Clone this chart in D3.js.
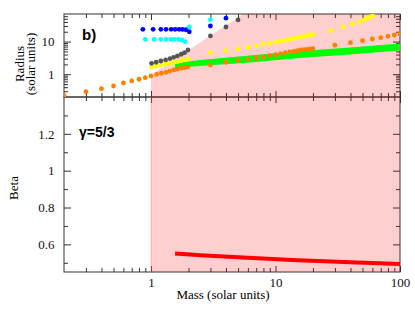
<!DOCTYPE html>
<html lang="en">
<head>
<meta charset="UTF-8">
<title>Radius and Beta vs Mass</title>
<script src="https://d3js.org/d3.v7.min.js"></script>
<style>
  body { margin: 0; background: #fff; }
  .serif { font-family: "Liberation Serif", "Times New Roman", serif; }
  .label { font-family: "Liberation Sans", Arial, sans-serif; font-weight: bold; }
</style>
</head>
<body>
<svg id="chart" width="415" height="312"></svg>
<script>
// ---- data ----
const orangeM = [0.2,0.3,0.4,0.5,0.6,0.7,0.8,0.9,1.0,1.11,1.21,1.32,1.42,1.53,1.63,1.74,1.86,1.97,
  3,4,5,6,7,8,9,10,11,12,13,14,15,16,17,18,19,20,30,40,50,60,70,80,90,100];
const orangeR = [0.22,0.29,0.36,0.435,0.54,0.62,0.70,0.78,0.88,0.99,1.07,1.14,1.25,1.35,1.44,1.52,1.58,1.64,
  1.91,2.32,2.59,2.93,3.08,3.37,3.69,3.96,4.25,4.57,4.8,5.04,5.26,5.52,5.65,5.8,5.93,6.06,
  7.7,9.25,10.7,12.0,13.2,14.5,15.9,17.1];

const blueM = [0.86,1.04,1.2,1.32,1.45,1.56,1.68,1.79,1.91,2.03,3,4];
const blueR = [23.8,23.8,23.8,23.8,23.8,23.8,23.8,23.6,23,20,30,52];

const cyanM = [0.9,1.06,1.2,1.32,1.44,1.54,1.66,1.77,1.88,2.03,3];
const cyanR = [11.7,11.7,11.7,11.7,11.7,11.7,11.6,11.2,9.9,28,47];

const grayM = [1.01,1.1,1.2,1.31,1.42,1.52,1.63,1.75,1.86,1.98,3,4,5];
const grayR = [2.16,2.32,2.54,2.73,2.99,3.3,3.62,4.08,4.57,5.52,14.9,28,46];

const yellowM = [1.01,1.1,1.2,1.31,1.42,1.52,1.63,1.75,1.86,1.98,
  3,4,5,6,7,8,9,10,11,12,13,14,15,16,17,18,19,20,
  27.8,34.9,41.3,46.9,51.3,54.6,57.6,60.3];
const yellowR = [1.63,1.78,1.92,2.05,2.16,2.32,2.42,2.59,2.73,2.93,
  4.57,5.26,5.93,6.69,7.33,8.27,8.87,9.52,10.2,10.96,11.77,12.3,13.2,13.8,14.5,15.2,15.9,16.5,
  21.6,28,34.7,39.9,46,51.9,56.9,61];

const greenM  = [1.56,2.47,6.24,15.7,39.8,100];
const greenLo = [1.55,1.78,2.28,3.14,4.02,5.33];
const greenHi = [2.13,2.73,3.75,5.15,6.59,8.74];

const betaM = [1.56,2.5,6,15,40,100];
const betaV = [0.551,0.541,0.527,0.514,0.503,0.493];

const pinkM = [1, 5.5];
const pinkR = [0.95, 70];

const xMajor = [1,10,100];
const xMinor = [0.3,0.4,0.5,0.6,0.7,0.8,0.9,2,3,4,5,6,7,8,9,20,30,40,50,60,70,80,90];
const rMajor = [1,10];
const rMinor = [0.3,0.4,0.5,0.6,0.7,0.8,0.9,2,3,4,5,6,7,8,9,20,30,40,50,60];
const bMajor = [0.6,0.8,1,1.2];
const bMinor = [0.5,0.7,0.9,1.1,1.3];

// ---- layout ----
const L = 64, R = 400, T1 = 14, B1 = 97, T2 = 97, B2 = 272;
const svg = d3.select('#chart');

const x = d3.scaleLog().domain([0.2, 100]).range([L, R]);
const yR = d3.scaleLog().domain([0.2, 70]).range([B1, T1]);
const yB = d3.scaleLinear().domain([0.45, 1.4]).range([B2, T2]);

const pairs = (a, b) => a.map((v, i) => [v, b[i]]);
const axisCol = '#333';

// clip for top panel
svg.append('clipPath').attr('id', 'clipTop')
  .append('rect').attr('x', L).attr('y', T1).attr('width', R - L).attr('height', B1 - T1);

// ---- axes ----
function ticks(axisFn, scale, vals, size, pos, isX) {
  const g = svg.append('g')
    .attr('transform', isX ? `translate(0,${pos})` : `translate(${pos},0)`)
    .call(axisFn(scale).tickValues(vals).tickSize(size).tickSizeOuter(0).tickFormat(''));
  g.select('.domain').remove();
  g.selectAll('line').attr('stroke', axisCol);
  return g;
}

// top panel
ticks(d3.axisTop, x, xMajor, -6, T1, true);
ticks(d3.axisTop, x, xMinor, -4, T1, true);
ticks(d3.axisBottom, x, xMajor, -6, B1, true);
ticks(d3.axisBottom, x, xMinor, -4, B1, true);
ticks(d3.axisLeft, yR, rMajor, -7, L, false);
ticks(d3.axisLeft, yR, rMinor, -4, L, false);
ticks(d3.axisRight, yR, rMajor, -7, R, false);
ticks(d3.axisRight, yR, rMinor, -4, R, false);
// bottom panel
ticks(d3.axisTop, x, xMajor, -6, T2, true);
ticks(d3.axisTop, x, xMinor, -4, T2, true);
ticks(d3.axisBottom, x, xMajor, -6, B2, true);
ticks(d3.axisBottom, x, xMinor, -4, B2, true);
ticks(d3.axisLeft, yB, bMajor, -7, L, false);
ticks(d3.axisLeft, yB, bMinor, -4, L, false);
ticks(d3.axisRight, yB, bMajor, -7, R, false);
ticks(d3.axisRight, yB, bMinor, -4, R, false);

// tick labels
function labels(axisFn, scale, vals, fmt, pos, isX, pad) {
  const g = svg.append('g')
    .attr('transform', isX ? `translate(0,${pos})` : `translate(${pos},0)`)
    .call(axisFn(scale).tickValues(vals).tickSize(0).tickPadding(pad).tickFormat(fmt));
  g.select('.domain').remove();
  g.attr('font-family', '"Liberation Serif", "Times New Roman", serif').attr('font-size', 13);
  g.selectAll('text').attr('fill', '#111');
}
labels(d3.axisBottom, x, xMajor, d3.format('d'), B2, true, 6);
labels(d3.axisLeft, yR, rMajor, d3.format('d'), L, false, 9.5);
labels(d3.axisLeft, yB, bMajor, d => d3.format('.1f')(d).replace('1.0', '1'), L, false, 9.5);

// frames
svg.append('rect').attr('x', L).attr('y', T1).attr('width', R - L).attr('height', B1 - T1)
  .attr('fill', 'none').attr('stroke', axisCol);
svg.append('rect').attr('x', L).attr('y', T2).attr('width', R - L).attr('height', B2 - T2)
  .attr('fill', 'none').attr('stroke', axisCol);

// ---- shaded region ----
const pinkPts = [[1, 0.2], ...pairs(pinkM, pinkR), [100, 70], [100, 0.2]];
svg.append('path')
  .attr('clip-path', 'url(#clipTop)')
  .attr('d', d3.line().x(d => x(d[0])).y(d => yR(d[1]))(pinkPts) + 'Z')
  .attr('fill', 'rgba(255,0,0,0.19)');
svg.append('rect')
  .attr('x', x(1)).attr('y', T2).attr('width', x(100) - x(1)).attr('height', B2 - T2)
  .attr('fill', 'rgba(255,0,0,0.19)');
svg.append('line')
  .attr('x1', x(1)).attr('x2', x(1)).attr('y1', T2).attr('y2', B2)
  .attr('stroke', 'rgba(255,120,120,0.5)');

// ---- top panel data ----
const topG = svg.append('g').attr('clip-path', 'url(#clipTop)');

topG.append('path')
  .attr('d', d3.area()
    .x(d => x(d.m)).y0(d => yR(d.lo)).y1(d => yR(d.hi))
    (greenM.map((m, i) => ({ m, lo: greenLo[i], hi: greenHi[i] }))))
  .attr('fill', '#00ff00');

function dots(ms, rs, color) {
  topG.append('g').selectAll('circle')
    .data(pairs(ms, rs))
    .join('circle')
    .attr('cx', d => x(d[0]))
    .attr('cy', d => yR(d[1]))
    .attr('r', 2.4)
    .attr('fill', color);
}
dots(blueM, blueR, '#0000ff');
dots(cyanM, cyanR, '#00ffff');
dots(orangeM, orangeR, '#ff7f00');
dots(yellowM, yellowR, '#ffff00');
dots(grayM, grayR, '#555555');

// ---- bottom panel data ----
svg.append('path')
  .attr('d', d3.line().x(d => x(d[0])).y(d => yB(d[1]))(pairs(betaM, betaV)))
  .attr('fill', 'none')
  .attr('stroke', '#ff0000')
  .attr('stroke-width', 4);

// ---- text ----
svg.append('text').attr('class', 'label').attr('x', 82).attr('y', 40)
  .attr('font-size', 15).text('b)');
svg.append('text').attr('class', 'label').attr('x', 79).attr('y', 137)
  .attr('font-size', 14).text('γ=5/3');

svg.append('text').attr('class', 'serif').attr('font-size', 13)
  .attr('text-anchor', 'middle')
  .attr('transform', 'translate(24,64) rotate(-90)').text('Radius');
svg.append('text').attr('class', 'serif').attr('font-size', 13)
  .attr('text-anchor', 'middle')
  .attr('transform', 'translate(35,64) rotate(-90)').text('(solar units)');
svg.append('text').attr('class', 'serif').attr('font-size', 13)
  .attr('text-anchor', 'middle')
  .attr('transform', 'translate(18,188) rotate(-90)').text('Beta');
svg.append('text').attr('class', 'serif').attr('font-size', 13)
  .attr('text-anchor', 'middle')
  .attr('x', 223).attr('y', 299).text('Mass (solar units)');
</script>
</body>
</html>
